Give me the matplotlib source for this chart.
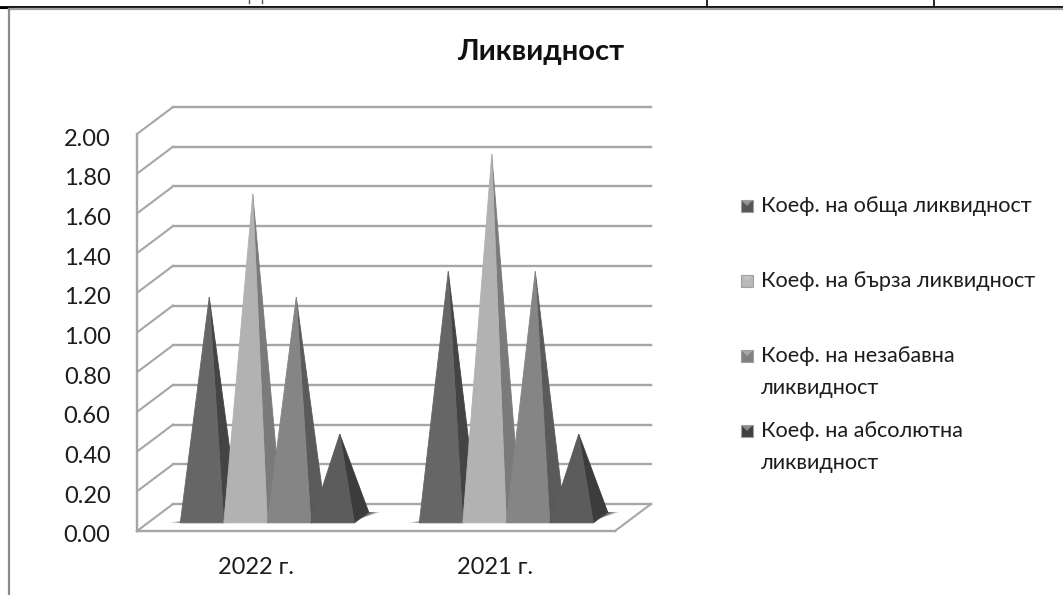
import matplotlib
matplotlib.use("Agg")
import matplotlib.pyplot as plt
from matplotlib.patches import Polygon, Rectangle
from matplotlib.transforms import Affine2D

plt.rcParams['font.family'] = ['Lato', 'Open Sans', 'DejaVu Sans']

categories = ["2022 г.", "2021 г."]
series_names = ["Коеф. на обща ликвидност", "Коеф. на бърза ликвидност",
                "Коеф. на незабавна\nликвидност", "Коеф. на абсолютна\nликвидност"]
obshta = [1.11, 1.24]
barza = [1.63, 1.83]
nezabavna = [1.11, 1.24]
absolutna = [0.42, 0.42]
ticks = [0.0, 0.2, 0.4, 0.6, 0.8, 1.0, 1.2, 1.4, 1.6, 1.8, 2.0]

series = [obshta, barza, nezabavna, absolutna]
front_cols = ['#666666', '#b2b2b2', '#858585', '#5c5c5c']
side_cols = ['#444444', '#7a7a7a', '#5a5a5a', '#3c3c3c']
key_cols = ['#555555', '#b8b8b8', '#808080', '#3f3f3f']
grid_col = '#a6a6a6'
text_col = '#1c1c1c'

W, H = 1063, 595
fig = plt.figure(figsize=(W / 100, H / 100), dpi=100)

# overlay in pixels for the page lines and the legend
page = fig.add_axes([0, 0, 1, 1], zorder=0)
page.set_xlim(0, W)
page.set_ylim(H, 0)
page.axis('off')
page.plot([0, W], [6.5, 6.5], color='black', lw=1.3)
page.plot([707, 707], [0, 6], color='black', lw=1.2)
page.plot([934, 934], [0, 6], color='black', lw=1.2)
page.plot([0, 9], [7.5, 7.5], color='black', lw=1.5)
page.plot([9, W], [9, 9], color='#a0a0a0', lw=1.6)
page.plot([9, 9], [9, H], color='#8c8c8c', lw=1.6)
# the two feet of a letter cut off by the crop
page.plot([249, 249], [0, 3], color='#555555', lw=1)
page.plot([262, 262], [0, 3], color='#555555', lw=1)

ax = fig.add_axes([137 / W, 1 - 531 / H, 478 / W, 397 / H], zorder=1)
ax.patch.set_alpha(0)
ax.set_xlim(0, 2)
ax.set_ylim(0, 2)

# depth of the box, in data units
depth_x = 36 / 239
depth_y = 27 / 198.5


def proj(x, y, d):
    return (x + d * depth_x, y + d * depth_y)


# back wall and side wall
for v in ticks:
    ax.plot(*zip(proj(0, v, 1), proj(2, v, 1)), color=grid_col, lw=1.7, clip_on=False, zorder=1)
    ax.plot(*zip(proj(0, v, 0), proj(0, v, 1)), color=grid_col, lw=1.5, clip_on=False, zorder=1)
ax.plot(*zip(proj(2, 0, 0), proj(2, 0, 1)), color=grid_col, lw=1.5, clip_on=False, zorder=1)

bar_w = 43.5 / 239
d0, d1 = 0.3, 0.7

# soft shadow on the floor, thin wedges left and right of each group
for i in range(len(categories)):
    left = i + 0.5 - 2 * bar_w
    right = i + 0.5 + 2 * bar_w
    for k in range(6):
        g = 0.008 + k * 0.008
        pts = [proj(left - g, 0, d0), proj(left, 0, d0), proj(left, 0, d0 + 0.1)]
        ax.add_patch(Polygon(pts, closed=True, fc='black', ec='none', alpha=0.1,
                             clip_on=False, zorder=2))
        pts = [proj(right, 0, d0 + 0.15), proj(right + g, 0, d1), proj(right, 0, d1)]
        ax.add_patch(Polygon(pts, closed=True, fc='black', ec='none', alpha=0.16,
                             clip_on=False, zorder=2))

# pyramids, left to right so that each one overlaps the one before
z = 3
for i in range(len(categories)):
    for j, vals in enumerate(series):
        xl = i + 0.5 + (j - 2) * bar_w
        xr = xl + bar_w
        apex = proj((xl + xr) / 2, vals[i], 0.5)
        side = [proj(xr, 0, d0), proj(xr, 0, d1), apex]
        front = [proj(xl, 0, d0), proj(xr, 0, d0), apex]
        ax.add_patch(Polygon(side, closed=True, fc=side_cols[j], ec=side_cols[j], lw=0.6,
                             clip_on=False, zorder=z))
        ax.add_patch(Polygon(front, closed=True, fc=front_cols[j], ec=front_cols[j], lw=0.6,
                             clip_on=False, zorder=z + 1))
        z += 2

for s in ['top', 'right']:
    ax.spines[s].set_visible(False)
for s in ['left', 'bottom']:
    ax.spines[s].set_color(grid_col)
    ax.spines[s].set_linewidth(1.7)
    ax.spines[s].set_zorder(1)

ax.set_yticks(ticks)
ax.set_yticklabels(["%.2f" % v for v in ticks], fontsize=17, color=text_col)
ax.set_xticks([0.5, 1.5])
ax.set_xticklabels(categories, fontsize=17, color=text_col)
ax.tick_params(axis='y', length=0, pad=19)
ax.tick_params(axis='x', length=0, pad=18.5)
for lbl in ax.get_yticklabels():
    lbl.set_transform(lbl.get_transform() + Affine2D().translate(0, -3))

page.text(541, 52, "Ликвидност", fontsize=21, fontweight='bold', color='#111111',
          ha='center', va='center')

# legend, placed by hand because the row spacing is uneven
key_y = [206, 281, 356, 431]
for name, y, col in zip(series_names, key_y, key_cols):
    page.add_patch(Rectangle((741, y - 6), 12, 12, fc=col, ec='#a0a0a0', lw=0.8))
    page.add_patch(Polygon([(742, y - 5), (752, y - 5), (747, y)], closed=True, fc='#d0d0d0',
                           ec='none', alpha=0.5))
    page.text(761, y - 10, name, fontsize=15.6, color=text_col, va='top', ha='left', linespacing=1.72)

fig.savefig("out.png", dpi=100)
